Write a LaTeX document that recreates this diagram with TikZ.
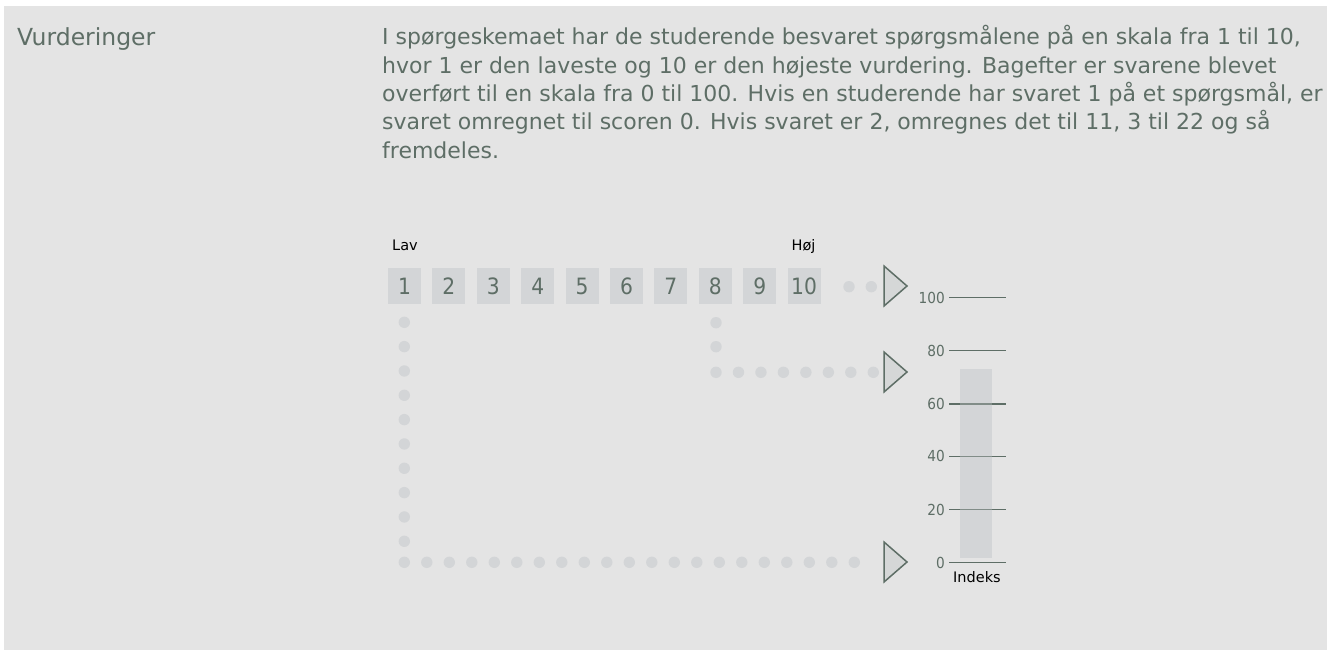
\documentclass[tikz,border=0pt]{standalone}
\usepackage{fontspec}
\setmainfont{DejaVu Sans}
\newfontfamily\condf{DejaVu Sans Condensed}
\definecolor{bg}{HTML}{E4E4E4}
\definecolor{txt}{HTML}{5E6E66}
\definecolor{boxc}{HTML}{D3D5D7}
\definecolor{trif}{HTML}{D5D7D7}
\tikzset{
  para/.style={anchor=base west, text=txt, inner sep=0, font=\fontsize{22}{28}\selectfont},
  numbox/.style={fill=boxc, text=txt, minimum width=33pt, minimum height=36pt, inner sep=0, font=\condf\fontsize{22.5}{28}\selectfont},
  small/.style={anchor=base west, text=black, inner sep=0, font=\fontsize{14.5}{17}\selectfont},
  axlab/.style={anchor=east, text=txt, inner sep=0, font=\condf\fontsize{15.2}{18}\selectfont},
  dot/.style={fill=boxc},
  tri/.style={draw=txt, fill=trif, line width=1.5pt, line join=miter},
  tick/.style={draw=txt, line width=1.2pt},
  bar/.style={fill=boxc}
}
\begin{document}
\begin{tikzpicture}[x=1pt,y=-1pt]
\useasboundingbox (0,0) rectangle (1327,650);
\fill[bg] (4,6) rectangle (1327,650);
\node[para, font=\fontsize{23.5}{28}\selectfont] (title) at (17,46) {Vurderinger};
\node[para] (p1) at (382,45) {I spørgeskemaet har de studerende besvaret spørgsmålene på en skala fra 1 til 10,};
\node[para] (p2) at (382,73.3) {hvor 1 er den laveste og 10 er den højeste vurdering. Bagefter er svarene blevet};
\node[para] (p3) at (382,101.6) {overført til en skala fra 0 til 100. Hvis en studerende har svaret 1 på et spørgsmål, er};
\node[para] (p4) at (382,129.9) {svaret omregnet til scoren 0. Hvis svaret er 2, omregnes det til 11, 3 til 22 og så};
\node[para] (p5) at (382,158.2) {fremdeles.};
\node[small] (lav) at (392,250) {Lav};
\node[small] (hoj) at (791.5,250) {Høj};
\foreach \i in {1,...,10}{
  \node[numbox] (b\i) at ({404.5+44.4*(\i-1)},286.3) {\i};
}
% dots
\foreach \k in {0,...,9} \fill[dot] (404.3,{322.3+24.33*\k}) circle (5.7);
\foreach \k in {0,...,20} \fill[dot] ({404.3+22.5*\k},562.3) circle (5.7);
\foreach \y in {322.7,346.7} \fill[dot] (716,\y) circle (5.7);
\foreach \k in {0,...,7} \fill[dot] ({716+22.47*\k},372.3) circle (5.7);
\foreach \x in {849,871.3} \fill[dot] (\x,286.7) circle (5.7);
% triangles
\draw[tri] (884,266) -- (884,306) -- (907,286) -- cycle;
\draw[tri] (884,352) -- (884,392) -- (907,372) -- cycle;
\draw[tri] (884,542) -- (884,582) -- (907,562) -- cycle;
% axis
\fill[bar] (960,369.3) rectangle (991.7,558.3);
\foreach \v/\y in {100/297.7,80/350.7,60/404,40/456.3,20/509.5,0/562.5}{
  \node[axlab] (l\v) at (945,\y) {\v};
  \draw[tick] (949.3,\y) -- (1005.5,\y);
}
\fill[bar, fill opacity=0.3] (960,369.3) rectangle (991.7,558.3);
\node[small] (idx) at (953,582) {Indeks};
\end{tikzpicture}
\end{document}
